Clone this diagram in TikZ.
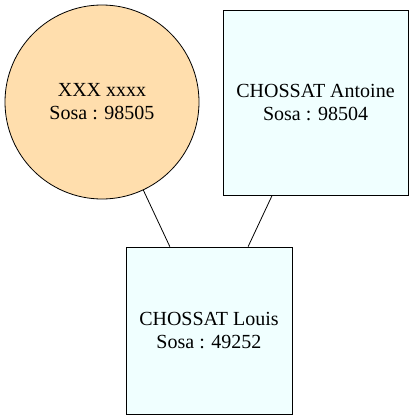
\documentclass[tikz,border=0pt]{standalone}
\usepackage{fontspec}
\setmainfont{Liberation Serif}
\definecolor{navajo}{HTML}{FFDEAD}
\definecolor{azure}{HTML}{F0FFFF}
\begin{document}
\begin{tikzpicture}[x=1pt, y=-1pt, line width = 0.8pt, draw = black,
	every node/.style = {draw, align = center, font = \fontsize{20}{23}\selectfont, inner sep = 0pt},
	female/.style = {circle, fill = navajo, minimum size = 194pt},
	male/.style = {rectangle, fill = azure}]
			\useasboundingbox (0,0) rectangle (414,420);
			\node[female] (sosa98505) at (102,102) {XXX xxxx\\Sosa : 98505};
			\node[male, minimum width = 185pt, minimum height = 185pt] (sosa98504) at (315.5,102.5) {CHOSSAT Antoine\\Sosa : 98504};
			\node[male, minimum width = 166pt, minimum height = 167pt] (sosa49252) at (209,330.5) {CHOSSAT Louis\\Sosa : 49252};
			\draw (sosa98505) -- (sosa49252);
			\draw (sosa98504) -- (sosa49252);
			\end{tikzpicture}
\end{document}
